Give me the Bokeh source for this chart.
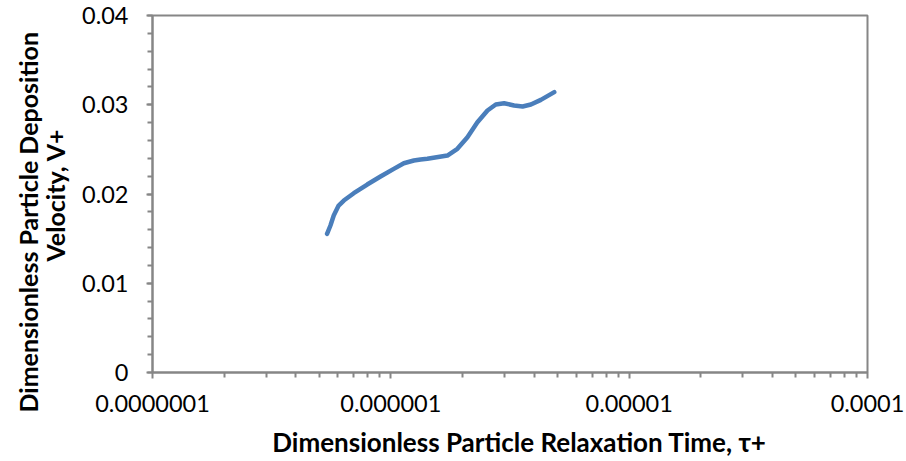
from bokeh.plotting import figure
from bokeh.models import Range1d, FixedTicker, CustomJSTickFormatter, Title
from bokeh.embed import file_html
from bokeh.resources import INLINE

# Data
tau_plus = [5.40e-7, 5.58e-7, 5.76e-7, 6.04e-7, 6.35e-7, 6.99e-7, 7.96e-7, 9.05e-7,
            1.029e-6, 1.134e-6, 1.249e-6, 1.333e-6, 1.423e-6, 1.727e-6, 1.902e-6,
            2.096e-6, 2.308e-6, 2.544e-6, 2.756e-6, 2.987e-6, 3.29e-6, 3.57e-6,
            3.87e-6, 4.26e-6, 4.85e-6]
v_plus = [0.01554, 0.01647, 0.01759, 0.01871, 0.01927, 0.02009, 0.02106, 0.02196,
          0.02282, 0.02345, 0.02375, 0.02387, 0.02394, 0.02431, 0.02506,
          0.02636, 0.02804, 0.02936, 0.03003, 0.03017, 0.02992, 0.02980,
          0.03003, 0.03055, 0.03141]

x_major = [1e-7, 1e-6, 1e-5, 1e-4]
y_major = [0, 0.01, 0.02, 0.03, 0.04]

x_title = "Dimensionless Particle Relaxation Time, τ+"
y_title_lines = ["Dimensionless Particle Deposition", "Velocity, V+"]

FONT = "Lato"
GRAY = "#868686"
NB = "\u00a0"

p = figure(width=906, height=461, x_axis_type="log",
           x_range=Range1d(1e-7, 1e-4), y_range=Range1d(0, 0.04),
           output_backend="svg", toolbar_location=None,
           frame_width=715, frame_height=357,
           min_border_left=152, min_border_right=39,
           min_border_top=15, min_border_bottom=89)
p.background_fill_color = "white"
p.border_fill_color = "white"
p.outline_line_color = GRAY
p.outline_line_width = 2
p.xgrid.visible = False
p.ygrid.visible = False

x_minor = []
for d in x_major[:-1]:
    x_minor += [d * k for k in range(2, 10)]
y_minor = [i * 0.002 for i in range(21)]

p.xaxis.ticker = FixedTicker(ticks=x_major, minor_ticks=x_minor)
p.yaxis.ticker = FixedTicker(ticks=y_major, minor_ticks=y_minor)
p.xaxis.formatter = CustomJSTickFormatter(
    code="return tick.toFixed(Math.max(0, -Math.round(Math.log10(tick))));")
p.yaxis.formatter = CustomJSTickFormatter(
    code="return Math.abs(tick) < 1e-12 ? '0' : tick.toFixed(2);")

for ax in (p.xaxis[0], p.yaxis[0]):
    ax.axis_line_color = GRAY
    ax.axis_line_width = 2
    ax.major_tick_line_color = GRAY
    ax.minor_tick_line_color = GRAY
    ax.major_tick_line_width = 2
    ax.minor_tick_line_width = 2
    ax.major_tick_in = 0
    ax.major_tick_out = 6
    ax.minor_tick_in = 0
    ax.minor_tick_out = 5
    ax.major_label_text_font = FONT
    ax.major_label_text_font_size = "23.5px"
    ax.major_label_text_color = "black"
    ax.axis_label_text_font = FONT
    ax.axis_label_text_font_style = "bold"
    ax.axis_label_text_color = "black"

p.xaxis.axis_label = NB * 3 + x_title
p.xaxis.axis_label_text_font_size = "26px"
p.xaxis.major_label_standoff = 16
p.yaxis.major_label_standoff = 18
p.xaxis.axis_label_standoff = 11

# y-axis title: one two-line side title, anchored at its lower end;
# the second line is centred under the first with non-breaking spaces
y_title = y_title_lines[0] + "\n" + NB * 25 + y_title_lines[1]
p.add_layout(Title(text=y_title, align="left", offset=-40,
                   vertical_align="middle", standoff=16,
                   text_font=FONT, text_font_style="bold",
                   text_font_size="25px", text_color="black",
                   text_line_height=0.92), "left")

p.line(tau_plus, v_plus, line_color="#4a7ebb", line_width=4.5,
       line_cap="round", line_join="round")

open("out.html", "w").write(file_html(p, INLINE))
